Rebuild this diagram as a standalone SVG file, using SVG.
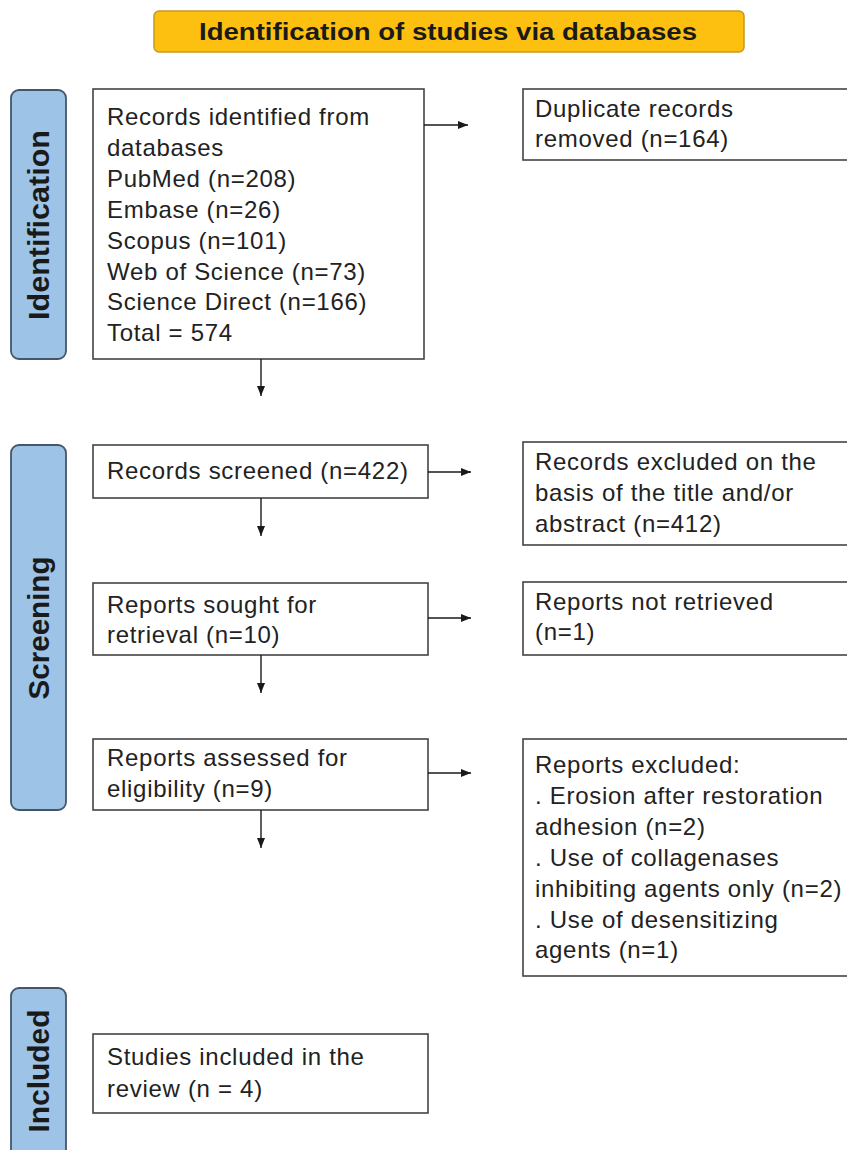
<svg xmlns="http://www.w3.org/2000/svg" width="847" height="1150" viewBox="0 0 847 1150">
<defs>
<style>
.bg{fill:#ffffff}
.title{fill:#FDC010;stroke:#C29A1E;stroke-width:1.5}
.ttl{font-family:"Liberation Sans",Arial,sans-serif;font-weight:bold;font-size:23px;fill:#1a1a1a}
.side{fill:#9DC3E6;stroke:#46566A;stroke-width:1.8}
.stxt{font-family:"Liberation Sans",Arial,sans-serif;font-weight:bold;font-size:29px;fill:#1a1a1a}
.box{fill:#ffffff;stroke:#444444;stroke-width:1.6}
.t{font-family:"Liberation Sans",Arial,sans-serif;font-size:24px;letter-spacing:0.7px;fill:#222222}
.c{stroke:#1a1a1a;stroke-width:1.4;fill:none;marker-end:url(#ah)}
</style>
<marker id="ah" viewBox="0 0 10 10" refX="10" refY="5" markerWidth="10" markerHeight="10" markerUnits="userSpaceOnUse" orient="auto">
<path d="M0,1 L10,5 L0,9 Z" fill="#1a1a1a"/>
</marker>
</defs>
<rect class="bg" x="0" y="0" width="847" height="1150"/>

<g id="title">
<rect class="title" x="154" y="11" width="590" height="41" rx="5"/>
<text class="ttl" x="448" y="40" text-anchor="middle" textLength="498" lengthAdjust="spacingAndGlyphs">Identification  of studies via databases</text>
</g>

<g id="side-identification">
<rect class="side" x="11" y="90" width="55" height="269" rx="8"/>
<text class="stxt" transform="translate(49,225) rotate(-90)" text-anchor="middle" textLength="190" lengthAdjust="spacingAndGlyphs">Identification</text>
</g>
<g id="side-screening">
<rect class="side" x="11" y="445" width="55" height="365" rx="8"/>
<text class="stxt" transform="translate(49,628) rotate(-90)" text-anchor="middle" textLength="143" lengthAdjust="spacingAndGlyphs">Screening</text>
</g>
<g id="side-included">
<rect class="side" x="11" y="988" width="55" height="200" rx="8"/>
<text class="stxt" transform="translate(49,1071) rotate(-90)" text-anchor="middle" textLength="123" lengthAdjust="spacingAndGlyphs">Included</text>
</g>

<g id="records-identified">
<rect class="box" x="93" y="89" width="331" height="270"/>
<text class="t" x="107">
<tspan x="107" y="125">Records identified  from</tspan>
<tspan x="107" y="156">databases</tspan>
<tspan x="107" y="187">PubMed (n=208)</tspan>
<tspan x="107" y="218">Embase (n=26)</tspan>
<tspan x="107" y="249">Scopus (n=101)</tspan>
<tspan x="107" y="280">Web of Science  (n=73)</tspan>
<tspan x="107" y="310">Science Direct (n=166)</tspan>
<tspan x="107" y="341">Total = 574</tspan>
</text>
</g>

<g id="duplicates">
<rect class="box" x="523" y="89" width="330" height="71"/>
<text class="t">
<tspan x="535" y="117">Duplicate  records</tspan>
<tspan x="535" y="147">removed (n=164)</tspan>
</text>
</g>

<g id="records-screened">
<rect class="box" x="93" y="445" width="335" height="53"/>
<text class="t" x="107" y="479">Records screened (n=422)</text>
</g>

<g id="records-excluded">
<rect class="box" x="523" y="442" width="330" height="103"/>
<text class="t">
<tspan x="535" y="470">Records excluded  on the</tspan>
<tspan x="535" y="501">basis of the title and/or</tspan>
<tspan x="535" y="532">abstract (n=412)</tspan>
</text>
</g>

<g id="reports-sought">
<rect class="box" x="93" y="583" width="335" height="72"/>
<text class="t">
<tspan x="107" y="613">Reports sought for</tspan>
<tspan x="107" y="643">retrieval (n=10)</tspan>
</text>
</g>

<g id="reports-not-retrieved">
<rect class="box" x="523" y="582" width="330" height="73"/>
<text class="t">
<tspan x="535" y="610">Reports not retrieved</tspan>
<tspan x="535" y="640">(n=1)</tspan>
</text>
</g>

<g id="reports-assessed">
<rect class="box" x="93" y="739" width="335" height="71"/>
<text class="t">
<tspan x="107" y="766">Reports assessed for</tspan>
<tspan x="107" y="797">eligibility  (n=9)</tspan>
</text>
</g>

<g id="reports-excluded">
<rect class="box" x="523" y="739" width="330" height="237"/>
<text class="t">
<tspan x="535" y="773">Reports excluded:</tspan>
<tspan x="535" y="804">. Erosion after restoration</tspan>
<tspan x="535" y="835">adhesion  (n=2)</tspan>
<tspan x="535" y="866">. Use of collagenases</tspan>
<tspan x="535" y="897">inhibiting  agents only  (n=2)</tspan>
<tspan x="535" y="928">. Use of desensitizing</tspan>
<tspan x="535" y="958">agents  (n=1)</tspan>
</text>
</g>

<g id="studies-included">
<rect class="box" x="93" y="1034" width="335" height="79"/>
<text class="t">
<tspan x="107" y="1065">Studies included  in the</tspan>
<tspan x="107" y="1097">review (n = 4)</tspan>
</text>
</g>

<g id="connectors">
<line class="c" x1="424" y1="125" x2="468" y2="125"/>
<line class="c" x1="261" y1="359" x2="261" y2="396"/>
<line class="c" x1="428" y1="472" x2="471" y2="472"/>
<line class="c" x1="261" y1="498" x2="261" y2="536"/>
<line class="c" x1="428" y1="618" x2="471" y2="618"/>
<line class="c" x1="261" y1="655" x2="261" y2="693"/>
<line class="c" x1="428" y1="773" x2="471" y2="773"/>
<line class="c" x1="261" y1="810" x2="261" y2="848"/>
</g>
</svg>
